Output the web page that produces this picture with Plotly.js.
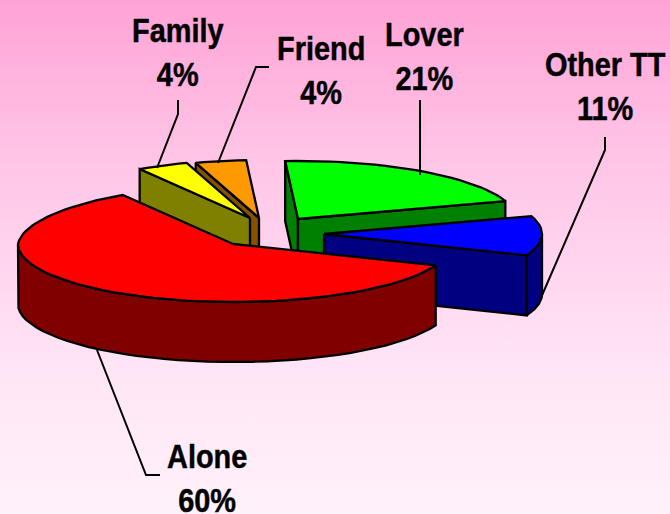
<!DOCTYPE html>
<html>
<head>
<meta charset="utf-8">
<script src="https://cdn.plot.ly/plotly-3.0.1.min.js"></script>
<style>
html,body{margin:0;padding:0;width:670px;height:514px;overflow:hidden}
#chart{width:670px;height:514px;background:linear-gradient(180deg,#ffa3d6 0%,#ffc4e6 30%,#ffe4f5 70%,#fff2fb 100%)}
.annotation-text{transform-box:fill-box;transform-origin:center;transform:scaleX(.85);stroke:#000;stroke-width:.5px}
</style>
</head>
<body>
<div id="chart"></div>
<script>
// data
const categories = ["Friend", "Lover", "Other TT", "Alone", "Family"];
const shares = [4, 21, 11, 60, 4];
const topColors = ["#ff9900", "#00ff00", "#0000ff", "#ff0000", "#ffff00"];
const sideColors = ["#855200", "#008000", "#000080", "#800000", "#808000"];
// exploded centre of each slice in the picture frame
const apexX = [259, 298, 324, 233, 250];
const apexY = [218, 219, 234, 244, 218];
const drawOrder = [1, 2, 0, 4, 3];
// label placement
const labelX = [321, 424, 605, 207, 178];
const labelY = [70, 56, 86, 478, 52];
const leaderX = [[269, 256, 218], [420, 420], [605, 605, 540], [97, 146, 160], [178, 178, 157]];
const leaderY = [[67, 67, 163], [100, 175], [137, 150, 300], [350, 475, 475], [100, 114, 168]];

const RX_LEFT = 215, RX_RIGHT = 218, RY = 58, DEPTH = 60, START = 252;
const rad = d => d * Math.PI / 180;
const total = shares.reduce((a, b) => a + b, 0);

function px(i, t) {
  const c = Math.cos(rad(t)), s = Math.sin(rad(t));
  if (c > 0) return apexX[i] + RX_RIGHT * c;
  return apexX[i] + RX_LEFT * c * (s < 0 ? 1 + 0.05 * s : 1);
}
function py(i, t) { return apexY[i] + RY * Math.sin(rad(t)); }

function poly(xs, ys, fill) {
  return {
    type: "scatter", mode: "lines", x: xs.concat(xs[0]), y: ys.concat(ys[0]),
    fill: "toself", fillcolor: fill, line: { color: "#000", width: 2.3 },
    hoverinfo: "skip", showlegend: false
  };
}

const traces = [];
const starts = [];
let acc = START;
shares.forEach(v => { starts.push(acc); acc += 360 * v / total; });

drawOrder.forEach(i => {
  const t1 = starts[i], t2 = starts[i] + 360 * shares[i] / total;
  const ax = apexX[i], ay = apexY[i];
  // radial walls that face the viewer
  [t1, t2].forEach((t, k) => {
    const c = Math.cos(rad(t));
    if ((k === 0 && c < 0) || (k === 1 && c > 0)) {
      traces.push(poly([ax, px(i, t), px(i, t), ax],
                       [ay, py(i, t), py(i, t) + DEPTH, ay + DEPTH], sideColors[i]));
    }
  });
  // outer rim, front half only
  const rimX = [], rimY = [];
  for (let w = -360; w <= 720; w += 360) {
    const lo = Math.max(t1, w), hi = Math.min(t2, w + 180);
    if (hi > lo) {
      for (let t = lo; t <= hi + 1e-6; t += (hi - lo) / 40) { rimX.push(px(i, t)); rimY.push(py(i, t)); }
      const n = rimX.length;
      for (let k = n - 1; k >= 0; k--) { rimX.push(rimX[k]); rimY.push(rimY[k] + DEPTH); }
      traces.push(poly(rimX.slice(), rimY.slice(), sideColors[i]));
      rimX.length = 0; rimY.length = 0;
    }
  }
  // top face
  const tx = [ax], ty = [ay];
  const steps = Math.max(6, Math.round((t2 - t1) / 3));
  for (let s = 0; s <= steps; s++) {
    const t = t1 + (t2 - t1) * s / steps;
    tx.push(px(i, t)); ty.push(py(i, t));
  }
  traces.push(poly(tx, ty, topColors[i]));
});

categories.forEach((c, i) => {
  traces.push({
    type: "scatter", mode: "lines", x: leaderX[i], y: leaderY[i],
    line: { color: "#000", width: 2 }, hoverinfo: "skip", showlegend: false
  });
});

const annotations = categories.map((c, i) => ({
  x: labelX[i], y: labelY[i], xref: "x", yref: "y",
  text: c + "<br>" + shares[i] + "%", showarrow: false,
  xanchor: "center", yanchor: "middle", align: "center",
  font: { family: "'Liberation Sans',Arial,sans-serif", size: 34, color: "#000", weight: 700 }
}));

const layout = {
  width: 670, height: 514,
  margin: { l: 0, r: 0, t: 0, b: 0 },
  paper_bgcolor: "rgba(0,0,0,0)", plot_bgcolor: "rgba(0,0,0,0)",
  xaxis: { range: [0, 670], visible: false, fixedrange: true },
  yaxis: { range: [514, 0], visible: false, fixedrange: true },
  showlegend: false, annotations
};
Plotly.newPlot("chart", traces, layout, { displayModeBar: false, staticPlot: true });
</script>
</body>
</html>
